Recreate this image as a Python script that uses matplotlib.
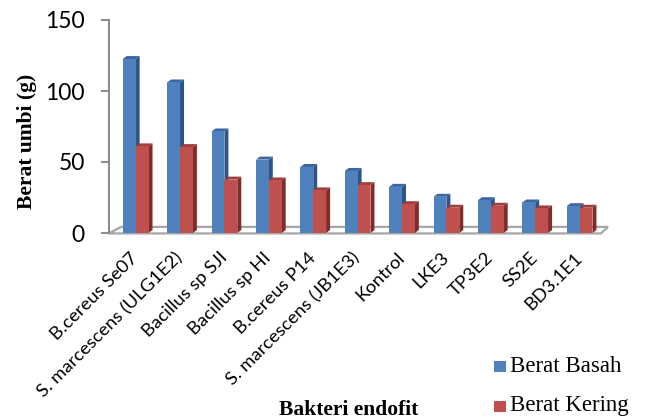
import matplotlib
matplotlib.use('Agg')
import matplotlib.pyplot as plt
from matplotlib.patches import Polygon, Rectangle

# Data
bakteri = ['B.cereus Se07', 'S. marcescens (ULG1E2)', 'Bacillus sp SJI', 'Bacillus sp HI',
           'B.cereus P14', 'S. marcescens (JB1E3)', 'Kontrol', 'LKE3', 'TP3E2', 'SS2E', 'BD3.1E1']
berat_basah = [122.5, 106, 71.5, 51.7, 46.5, 43.7, 32.5, 25.5, 23.1, 21.5, 18.9]
berat_kering = [61, 60.5, 37.6, 37, 30, 33.7, 20.3, 17.8, 19.2, 17.3, 17.8]
yticks = [0, 50, 100, 150]

# colours for front / side / top faces of the bars
blue = ('#4F81BD', '#2F5486', '#3A66A2')
red = ('#C0504D', '#7F2C2A', '#A03F3C')

fig = plt.figure(figsize=(6.48, 4.2), dpi=100)
ax = fig.add_axes([109/648, 187/420, 495/648, 213/420])
ax.set_xlim(-0.6, 10.55)
ax.set_ylim(0, 150)

bw = 0.29    # width of one bar
dx = 0.09    # depth of the 3d effect (x)
dy = 2.1     # depth of the 3d effect (y)

# floor
floor = Polygon([(-0.6, -0.3), (10.48, -0.3), (10.64, 4.3), (-0.33, 4.3)],
                closed=True, facecolor='white', edgecolor='#A6A6A6', lw=1.6,
                clip_on=False, zorder=1)
ax.add_patch(floor)


def bar3d(x, h, cols):
    front, side, top = cols
    ax.add_patch(Rectangle((x, 0), bw, h, facecolor=front, edgecolor='none', zorder=3))
    ax.add_patch(Polygon([(x + bw, 0), (x + bw + dx, dy), (x + bw + dx, h + dy), (x + bw, h)],
                         facecolor=side, edgecolor='none', zorder=2, clip_on=False))
    ax.add_patch(Polygon([(x, h), (x + dx, h + dy), (x + bw + dx, h + dy), (x + bw, h)],
                         facecolor=top, edgecolor='none', zorder=2, clip_on=False))


for i in range(len(bakteri)):
    bar3d(i - bw, berat_basah[i], blue)
    bar3d(i, berat_kering[i], red)

# axes styling
for s in ['top', 'right', 'bottom']:
    ax.spines[s].set_visible(False)
ax.spines['left'].set_color('#8C8C8C')
ax.spines['left'].set_linewidth(1.5)
ax.set_yticks(yticks)
ax.set_yticklabels([str(t) for t in yticks], fontfamily='Lato', fontsize=16.5)
ax.tick_params(axis='y', colors='#8C8C8C', labelcolor='black', length=5.5, width=1.5, pad=12)

ax.set_xticks(range(len(bakteri)))
ax.set_xticklabels(bakteri, rotation=45, ha='right', va='center', rotation_mode='anchor',
                   fontfamily='Lato', fontsize=13.3)
ax.tick_params(axis='x', length=0, pad=16)

fig.text(27/648, 1 - 141/420, 'Berat umbi (g)', fontfamily='Liberation Serif', fontweight='bold',
         fontsize=15.5, rotation=90, ha='center', va='center')
fig.text(349/648, 1 - 410/420, 'Bakteri endofit', fontfamily='Liberation Serif',
         fontweight='bold', fontsize=15.5, ha='center', va='center')

# legend
fig.patches.append(Rectangle((494/648, 1 - 372/420), 12/648, 11/420,
                             transform=fig.transFigure, facecolor=blue[0], edgecolor='none'))
fig.patches.append(Rectangle((494/648, 1 - 412/420), 12/648, 11/420,
                             transform=fig.transFigure, facecolor=red[0], edgecolor='none'))
fig.text(510/648, 1 - 366/420, 'Berat Basah', fontfamily='Liberation Serif', fontsize=16.5,
         va='center')
fig.text(510/648, 1 - 406/420, 'Berat Kering', fontfamily='Liberation Serif', fontsize=16.5,
         va='center')

plt.savefig('out.png', dpi=100)
